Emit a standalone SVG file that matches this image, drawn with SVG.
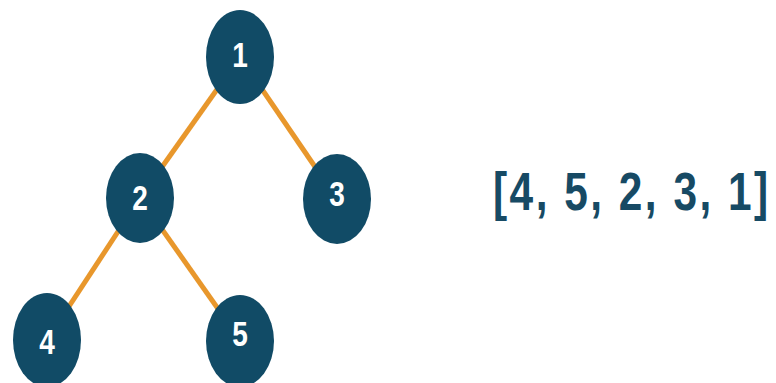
<svg xmlns="http://www.w3.org/2000/svg" width="776" height="383" viewBox="0 0 776 383">
<style>
.node{fill:#114B66}
.lbl{fill:#ffffff;font-family:"Liberation Sans",Arial,sans-serif;font-weight:bold;font-size:35px;text-anchor:middle}
.edge{stroke:#E8972C;stroke-width:5;fill:none}
.arr{fill:#174A64;font-family:"Liberation Sans",Arial,sans-serif;font-weight:bold;font-size:53px}
</style>
<rect width="776" height="383" fill="#ffffff"/>
<g id="connectors">
<line class="edge" x1="240" y1="57" x2="140" y2="198"/>
<line class="edge" x1="240" y1="57" x2="337" y2="199"/>
<line class="edge" x1="140" y1="198" x2="47" y2="340"/>
<line class="edge" x1="140" y1="198" x2="240" y2="340"/>
</g>
<g id="node1"><ellipse class="node" cx="240" cy="57" rx="34" ry="47"/><text class="lbl" transform="translate(240 67) scale(0.8 1)">1</text></g>
<g id="node2"><ellipse class="node" cx="140" cy="198" rx="34" ry="45"/><text class="lbl" transform="translate(140 210) scale(0.8 1)">2</text></g>
<g id="node3"><ellipse class="node" cx="337" cy="199" rx="34" ry="45"/><text class="lbl" transform="translate(337 206) scale(0.8 1)">3</text></g>
<g id="node4"><ellipse class="node" cx="47" cy="340" rx="34" ry="47"/><text class="lbl" transform="translate(47 354) scale(0.8 1)">4</text></g>
<g id="node5"><ellipse class="node" cx="240" cy="341" rx="34" ry="46"/><text class="lbl" transform="translate(240 346) scale(0.8 1)">5</text></g>
<g id="result"><text class="arr" transform="translate(493 210) scale(0.8 1)" x="0" y="0" textLength="344" lengthAdjust="spacing">[4, 5, 2, 3, 1]</text></g>
</svg>
